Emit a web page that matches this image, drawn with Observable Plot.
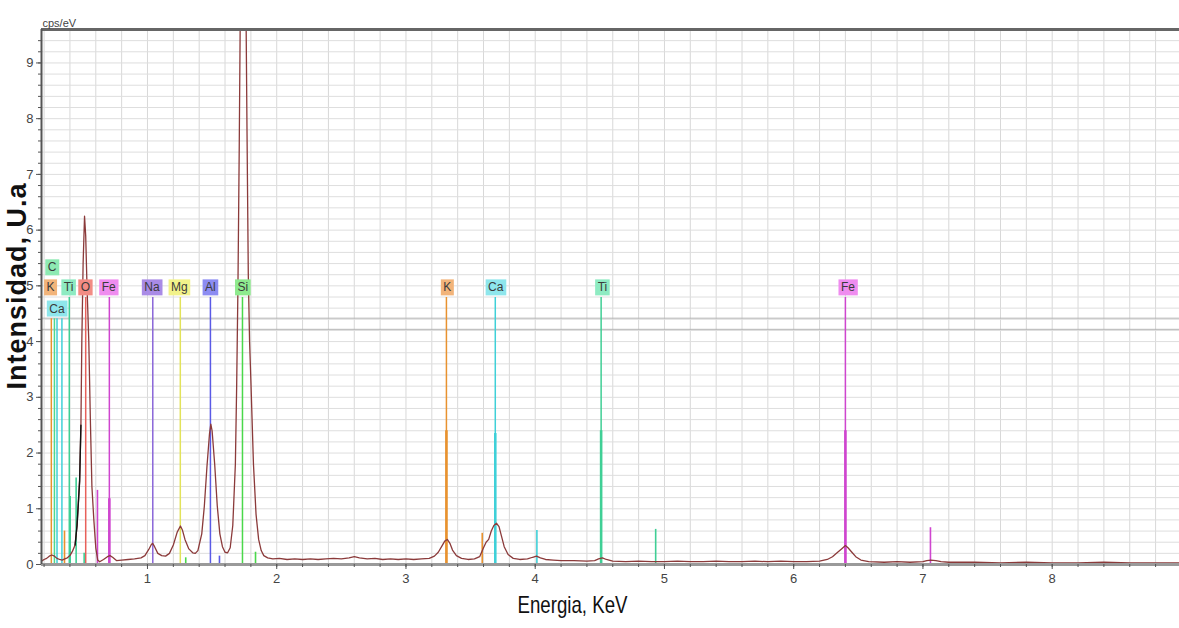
<!DOCTYPE html>
<html><head><meta charset="utf-8">
<script src="https://cdn.jsdelivr.net/npm/d3@7"></script>
<script src="https://cdn.jsdelivr.net/npm/@observablehq/plot@0.6"></script>
<style>
html,body{margin:0;padding:0;background:#fff;}
#chart svg{display:block;}
</style>
</head><body><div id="chart"></div>
<script>
// ---- Spectrum (energy in keV, intensity in cps/eV) ----
const energy = [0.18,0.20,0.22,0.24,0.26,0.28,0.30,0.32,0.34,0.36,0.38,0.40,0.42,0.44,0.455,0.465,0.475,0.485,0.492,0.502,0.513,0.522,0.532,0.546,0.558,0.57,0.585,0.60,0.615,0.63,0.66,0.69,0.71,0.73,0.76,0.80,0.85,0.90,0.95,0.98,1.01,1.03,1.04,1.055,1.08,1.11,1.14,1.17,1.20,1.23,1.255,1.27,1.29,1.32,1.35,1.37,1.39,1.40,1.42,1.44,1.46,1.48,1.49,1.50,1.52,1.54,1.56,1.58,1.60,1.62,1.64,1.66,1.68,1.69,1.70,1.71,1.725,1.74,1.755,1.77,1.78,1.79,1.80,1.82,1.84,1.86,1.88,1.90,1.93,1.97,2.02,2.08,2.14,2.20,2.26,2.32,2.38,2.44,2.50,2.56,2.60,2.64,2.70,2.76,2.82,2.88,2.94,3.00,3.06,3.12,3.18,3.22,3.25,3.28,3.30,3.32,3.34,3.36,3.39,3.43,3.48,3.53,3.57,3.60,3.62,3.64,3.66,3.68,3.70,3.72,3.74,3.76,3.79,3.83,3.88,3.94,3.98,4.01,4.04,4.08,4.14,4.20,4.30,4.40,4.46,4.49,4.52,4.55,4.60,4.70,4.80,4.90,5.00,5.10,5.20,5.30,5.40,5.50,5.60,5.70,5.80,5.90,6.00,6.10,6.20,6.26,6.30,6.34,6.37,6.40,6.42,6.45,6.48,6.52,6.58,6.70,6.80,6.90,7.00,7.03,7.06,7.10,7.14,7.20,7.40,7.60,7.80,8.00,8.20,8.40,8.60,8.80,9.00];
const intensity = [0.06,0.09,0.11,0.15,0.17,0.15,0.11,0.09,0.08,0.10,0.12,0.16,0.24,0.35,0.70,1.10,1.50,2.50,4.00,5.40,6.25,5.90,5.00,4.00,2.60,1.40,0.80,0.30,0.08,0.05,0.09,0.14,0.16,0.13,0.07,0.08,0.09,0.10,0.12,0.16,0.27,0.36,0.38,0.32,0.20,0.16,0.15,0.20,0.35,0.58,0.69,0.62,0.45,0.28,0.21,0.20,0.25,0.35,0.55,1.05,1.75,2.35,2.52,2.40,1.80,1.05,0.55,0.32,0.22,0.21,0.30,0.70,1.80,3.20,5.00,7.50,12.0,14.5,12.0,7.80,5.20,4.00,3.30,1.80,0.90,0.45,0.25,0.16,0.12,0.10,0.11,0.09,0.10,0.09,0.10,0.09,0.10,0.11,0.10,0.12,0.14,0.12,0.10,0.11,0.09,0.10,0.09,0.10,0.09,0.10,0.11,0.15,0.22,0.34,0.42,0.45,0.38,0.26,0.16,0.11,0.09,0.10,0.14,0.30,0.40,0.45,0.60,0.70,0.74,0.68,0.50,0.32,0.18,0.11,0.09,0.10,0.13,0.15,0.12,0.09,0.08,0.07,0.07,0.06,0.07,0.10,0.12,0.09,0.06,0.05,0.06,0.05,0.05,0.06,0.05,0.05,0.06,0.05,0.05,0.06,0.05,0.06,0.05,0.05,0.06,0.09,0.14,0.22,0.28,0.34,0.30,0.22,0.14,0.08,0.05,0.04,0.05,0.04,0.05,0.07,0.08,0.07,0.05,0.04,0.04,0.03,0.04,0.03,0.03,0.04,0.03,0.03,0.03];

// ---- Element marker lines ----
const majorEl  = ["K","C","Ca","Ca","Ti","O","Fe","Na","Mg","Al","Si","K","Ca","Ti","Fe"];
const majorE   = [0.256,0.280,0.300,0.338,0.395,0.522,0.705,1.041,1.254,1.487,1.735,3.313,3.691,4.510,6.400];
const majorTop = [4.41,4.41,4.41,4.41,4.79,4.79,4.79,4.79,4.79,4.79,4.79,4.79,4.79,4.79,4.79];

const boldEl  = ["Fe","K","Ca","Ti","Fe"];
const boldE   = [0.705,3.313,3.691,4.510,6.400];
const boldTop = [1.18,2.40,2.35,2.40,2.40];

const minorEl  = ["K","Ti","Ti","Ti","Fe","Si","Al","Si","K","Ca","Ti","Fe"];
const minorE   = [0.358,0.402,0.448,0.510,0.613,1.296,1.557,1.836,3.590,4.013,4.932,7.058];
const minorTop = [0.60,1.22,1.55,0.20,1.33,0.12,0.15,0.22,0.56,0.61,0.63,0.66];

// ---- Element labels ----
const labelText = ["C","K","Ca","Ti","O","Fe","Na","Mg","Al","Si","K","Ca","Ti","Fe"];
const labelE    = [0.262,0.250,0.300,0.390,0.520,0.700,1.035,1.247,1.487,1.738,3.320,3.695,4.520,6.420];
const labelRow  = [1,0,-1,0,0,0,0,0,0,0,0,0,0,0];

// ---- Axis ticks ----
const xTicks = [1,2,3,4,5,6,7,8];
const yTicks = [0,1,2,3,4,5,6,7,8,9];
const xMin = 0.18, xMax = 8.985, yMax = 9.6;
const markerRefs = [4.22, 4.42];

// ---- Styles ----
const lineColor = {K:"#e8922f",C:"#4fd98e",Ca:"#3fd0d8",Ti:"#3fcf95",O:"#e8605a",Fe:"#cf45cf",Na:"#8a66d8",Mg:"#e2e25a",Al:"#5a5ae6",Si:"#4ad84a"};
const boxColor  = {K:"#f2b47a",C:"#8eeab3",Ca:"#8ee6ec",Ti:"#8eebc2",O:"#f28c84",Fe:"#ef8cef",Na:"#a98be6",Mg:"#f2f28a",Al:"#8c8cf2",Si:"#8eea8e"};

const spectrum = energy.map((e,i)=>({e, v: intensity[i]}));
const major = majorEl.map((el,i)=>({el, e: majorE[i], top: majorTop[i]}));
const bold = boldEl.map((el,i)=>({el, e: boldE[i], top: boldTop[i]}));
const minor = minorEl.map((el,i)=>({el, e: minorE[i], top: minorTop[i]}));
const labels = labelText.map((t,i)=>({t, e: labelE[i], v: 4.97 + (labelRow[i] > 0 ? 0.36 : labelRow[i] < 0 ? -0.38 : 0)}));

const minorX = d3.range(1, 45).map(i => +(i*0.2).toFixed(1)).filter(v => v > xMin && v < xMax);
const minorY = d3.range(1, 48).map(i => +(i*0.2).toFixed(1)).filter(v => v < yMax);

const font = "'Liberation Sans',Arial,sans-serif";

const chart = Plot.plot({
  width: 1179, height: 628,
  marginTop: 29, marginBottom: 64, marginLeft: 41, marginRight: 0,
  style: {fontFamily: font, background: "#fff", overflow: "visible"},
  x: {domain: [xMin, xMax]},
  y: {domain: [0, yMax]},
  marks: [
    Plot.gridX(minorX, {stroke: "#d8d8d8", strokeOpacity: 1, strokeWidth: 1}),
    Plot.gridY(minorY, {stroke: "#dedede", strokeOpacity: 1, strokeWidth: 1}),
    Plot.ruleY(markerRefs, {stroke: "#b4b4b4", strokeWidth: 1}),
    Plot.ruleX(major, {x: "e", y1: 0, y2: "top", stroke: d => lineColor[d.el], strokeWidth: 1.5}),
    Plot.ruleX(minor, {x: "e", y1: 0, y2: "top", stroke: d => lineColor[d.el], strokeWidth: 1.6}),
    Plot.ruleX(bold, {x: "e", y1: 0, y2: "top", stroke: d => lineColor[d.el], strokeWidth: 2.6}),
    Plot.line(spectrum, {x: "e", y: "v", stroke: "#8b3a3a", strokeWidth: 1.3, clip: true}),
    Plot.line(spectrum.filter(d => d.e >= 0.44 && d.e <= 0.485), {x: "e", y: "v", stroke: "#111", strokeWidth: 1.4}),
    Plot.text(labels, {x: "e", y: "v", text: "t", fontSize: 12, fill: "#3a3a3a"}),
    Plot.ruleY([0], {stroke: "#9a9a9a", strokeWidth: 3}),
    Plot.ruleY([yMax], {stroke: "#666", strokeWidth: 3}),
    Plot.ruleX([xMin], {stroke: "#555", strokeWidth: 2}),
    Plot.axisX({ticks: xTicks, tickSize: 5, tickPadding: 4, fontSize: 13, stroke: "#555", color: "#444", label: null}),
    Plot.axisX({ticks: minorX, tickSize: 3, tickFormat: () => "", stroke: "#555", label: null}),
    Plot.axisY({ticks: yTicks, tickSize: 5, tickPadding: 3, fontSize: 13, stroke: "#555", color: "#444", label: null}),
    Plot.axisY({ticks: minorY, tickSize: 3, tickFormat: () => "", stroke: "#555", label: null}),
    Plot.text(["cps/eV"], {frameAnchor: "top-left", textAnchor: "start", dx: 1, dy: -10, fontSize: 11, fill: "#444"}),
    Plot.text(["Energia, KeV"], {frameAnchor: "bottom", textAnchor: "middle", dx: -38, dy: 48, fontSize: 24, fill: "#111"}),
    Plot.text(["Intensidad, U.a"], {frameAnchor: "left", textAnchor: "middle", rotate: -90, dx: -24, dy: -11, fontSize: 27, fontWeight: "bold", fill: "#111"})
  ]
});
document.getElementById("chart").appendChild(chart);

// background boxes behind element labels (first text mark group)
const textGroups = chart.querySelectorAll('g[aria-label="text"]');
const labelGroup = textGroups[0];
labelGroup.querySelectorAll("text").forEach((node, i) => {
  const b = node.getBBox();
  const el = labelText[i];
  const tr = node.getAttribute("transform");
  const r = document.createElementNS("http://www.w3.org/2000/svg", "rect");
  r.setAttribute("x", b.x - 2.5);
  r.setAttribute("y", b.y - 1);
  r.setAttribute("width", b.width + 5);
  r.setAttribute("height", b.height + 2);
  r.setAttribute("fill", boxColor[el]);
  if (tr) r.setAttribute("transform", tr);
  node.parentNode.insertBefore(r, node);
});
// condensed x label and spaced y label
const xl = textGroups[2].querySelector("text");
xl.setAttribute("textLength", 110);
xl.setAttribute("lengthAdjust", "spacingAndGlyphs");
const yl = textGroups[3].querySelector("text");
yl.style.letterSpacing = "1px";
</script>
</body></html>
